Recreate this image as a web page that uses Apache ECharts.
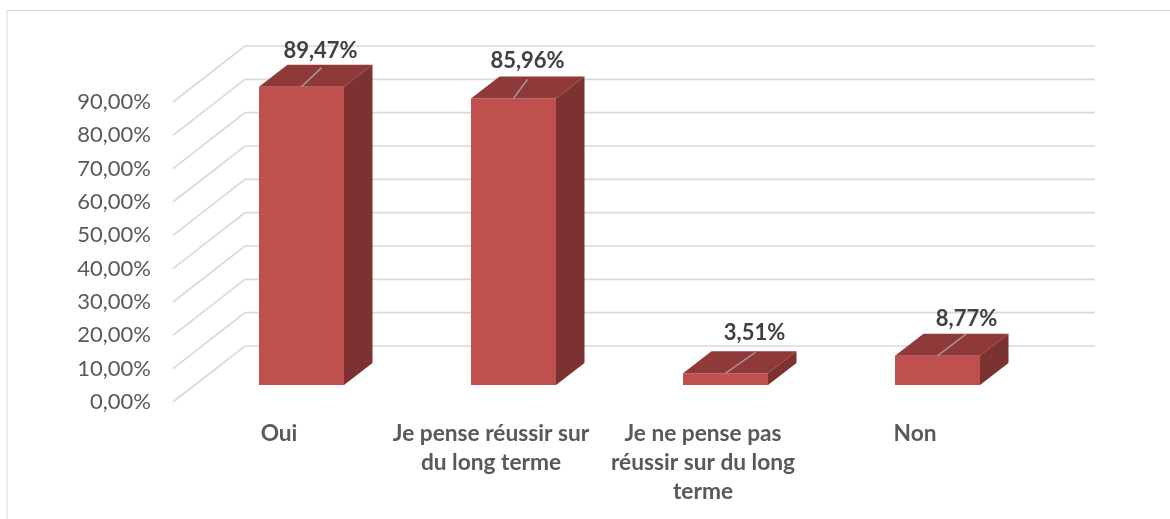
<!DOCTYPE html>
<html>
<head>
<meta charset="utf-8">
<style>html,body{margin:0;padding:0;background:#fff}#c{width:1170px;height:519px}</style>
<script src="https://cdn.jsdelivr.net/npm/echarts@6/dist/echarts.min.js"></script>
</head>
<body>
<div id="c"></div>
<script>
const categories = ["Oui", "Je pense réussir sur\ndu long terme", "Je ne pense pas\nréussir sur du long\nterme", "Non"];
const values = [89.47, 85.96, 3.51, 8.77];
const valueLabels = ["89,47%", "85,96%", "3,51%", "8,77%"];
const tickValues = [0, 10, 20, 30, 40, 50, 60, 70, 80, 90];

// Projection of the pseudo-3D scene (pixels)
const WALL = { dx: 72, dy: -56, extra: 2 };
const BAR = { shiftX: 22.5, shiftY: -17, width: 85, dx: 28.5, dy: -22 };
const LEADER = [[20, -19, 19, -36], [14, -19, 14, -38], [30, -21, 29, -40], [29, -22, 29, -37]];
const FONT = "Lato, 'Open Sans', sans-serif";

const chart = echarts.init(document.getElementById('c'), null, { renderer: 'canvas' });

function renderWall(params, api) {
  const cs = params.coordSys;
  const p = api.coord([0, api.value(1)]);
  const x0 = cs.x, y0 = p[1];
  return {
    type: 'polyline',
    shape: { points: [[x0, y0], [x0 + WALL.dx, y0 + WALL.dy], [x0 + cs.width + WALL.dx + WALL.extra, y0 + WALL.dy]] },
    style: { stroke: '#d9d9d9', lineWidth: 1.6, fill: null }
  };
}

function renderBar(params, api) {
  const i = api.value(0);
  const top = api.coord([i, api.value(1)]);
  const base = api.coord([i, 0]);
  const xl = top[0] + BAR.shiftX - BAR.width / 2, xr = xl + BAR.width;
  const yt = top[1] + BAR.shiftY, yb = base[1] + BAR.shiftY;
  const d = BAR;
  const cx = (xl + xr) / 2;
  const L = LEADER[params.dataIndex];
  return {
    type: 'group',
    children: [
      { type: 'polygon', shape: { points: [[xl, yb], [xr, yb], [xr, yt], [xl, yt]] },
        style: { fill: '#c0504d' } },
      { type: 'polygon', shape: { points: [[xl, yt], [xr, yt], [xr + d.dx, yt + d.dy], [xl + d.dx, yt + d.dy]] },
        style: { fill: '#8f3a38' } },
      { type: 'polygon', shape: { points: [[xr, yb], [xr + d.dx, yb + d.dy], [xr + d.dx, yt + d.dy], [xr, yt]] },
        style: { fill: '#7b3230' } },
      { type: 'line', shape: { x1: cx, y1: yt, x2: cx + L[0], y2: yt + L[1] },
        style: { stroke: '#a6a6a6', lineWidth: 1.3 } },
      { type: 'text', x: cx + L[2], y: yt + L[3],
        style: { text: valueLabels[params.dataIndex], fill: '#404040', font: "bold 22px " + FONT, align: 'center', verticalAlign: 'middle' } }
    ]
  };
}

chart.setOption({
  animation: false,
  backgroundColor: '#fff',
  graphic: [
    { type: 'line', silent: true, shape: { x1: 7, y1: 10.5, x2: 1170, y2: 10.5 }, style: { stroke: '#d9d9d9', lineWidth: 1 } },
    { type: 'line', silent: true, shape: { x1: 7, y1: 10, x2: 7, y2: 519 }, style: { stroke: '#d9d9d9', lineWidth: 1 } }
  ],
  grid: { left: 173, right: 149, top: 102, height: 300, containLabel: false },
  xAxis: {
    type: 'category',
    data: categories,
    axisLine: { show: false },
    axisTick: { show: false },
    splitLine: { show: false },
    axisLabel: { interval: 0, margin: 17, color: '#595959', fontFamily: FONT, fontWeight: 'bold', fontSize: 22.7, lineHeight: 29, verticalAlign: 'top' }
  },
  yAxis: {
    type: 'value',
    min: 0,
    max: 90,
    interval: 10,
    axisLine: { show: false },
    axisTick: { show: false },
    splitLine: { show: false },
    axisLabel: { margin: 22, color: '#595959', fontFamily: FONT, fontSize: 22,
      formatter: v => v.toFixed(2).replace('.', ',') + '%' }
  },
  series: [
    { type: 'custom', silent: true, clip: false, z: 1, renderItem: renderWall,
      encode: { x: 0, y: 1 }, data: tickValues.map(t => [0, t]) },
    { type: 'custom', silent: true, clip: false, z: 2, renderItem: renderBar,
      encode: { x: 0, y: 1 }, data: values.map((v, i) => [i, v]) }
  ]
});
</script>
</body>
</html>
